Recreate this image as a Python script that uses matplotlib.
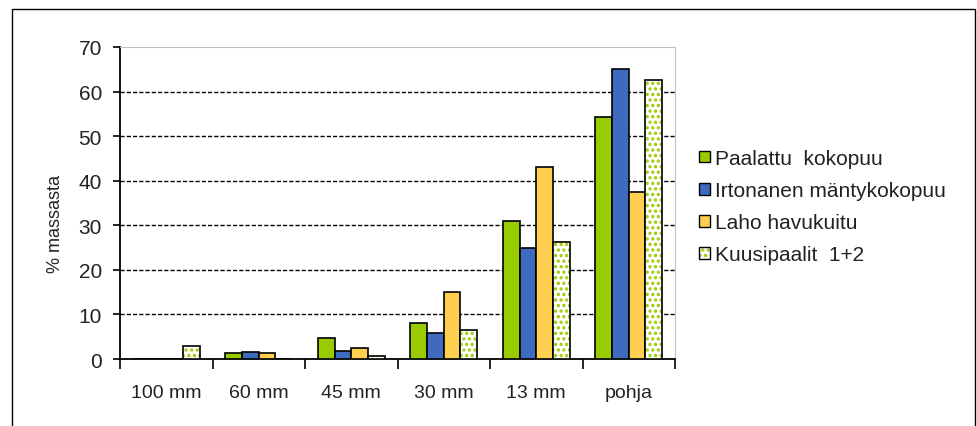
import matplotlib.pyplot as plt
import numpy as np
from matplotlib.patches import Rectangle, Patch
from matplotlib.legend_handler import HandlerTuple

plt.rcParams['font.family'] = ['Liberation Sans', 'DejaVu Sans']

categories = ["100 mm", "60 mm", "45 mm", "30 mm", "13 mm", "pohja"]
series_names = ["Paalattu  kokopuu", "Irtonanen mäntykokopuu", "Laho havukuitu", "Kuusipaalit  1+2"]
paalattu = [0, 1.3, 4.8, 8.1, 31.0, 54.4]
irtonainen = [0, 1.6, 1.9, 5.8, 24.9, 65.1]
laho = [0, 1.3, 2.5, 15.0, 43.1, 37.5]
kuusi = [2.9, 0, 0.6, 6.5, 26.3, 62.5]

green = "#99CC00"
blue = "#3E6BBE"
yellow = "#FFD050"

fig = plt.figure(figsize=(9.78, 4.27), dpi=100)
ax = fig.add_axes([0.1227, 0.1569, 0.5675, 0.7307])

x = np.arange(len(categories))
w = 0.18
offs = np.array([-1.5, -0.5, 0.5, 1.5]) * w

ax.bar(x + offs[0], paalattu, w, color=green, edgecolor="black", linewidth=1.2, zorder=3)
ax.bar(x + offs[1], irtonainen, w, color=blue, edgecolor="black", linewidth=1.2, zorder=3)
ax.bar(x + offs[2], laho, w, color=yellow, edgecolor="black", linewidth=1.2, zorder=3)
# dotted fill for Kuusipaalit
plt.rcParams['hatch.linewidth'] = 1.6
ax.bar(x + offs[3], kuusi, w, color="white", edgecolor=green, hatch="...", linewidth=0, zorder=3)
ax.bar(x + offs[3], kuusi, w, fill=False, edgecolor="black", linewidth=1.2, zorder=4)

ax.set_xlim(-0.5, len(categories) - 0.5)
ax.set_ylim(0, 70)
ax.set_yticks(range(0, 71, 10))
ax.set_xticks(x)
ax.set_xticklabels(categories)
ax.set_xticks(np.arange(-0.5, len(categories)), minor=True)
ax.tick_params(axis="x", which="major", length=0, pad=18, labelsize=14, labelcolor="#222222")
ax.tick_params(axis="x", which="minor", length=7, width=1.2, direction="out")
ax.tick_params(axis="y", length=5, width=1.2, labelsize=15, pad=8, labelcolor="#222222")

for v in range(10, 70, 10):
    ax.axhline(v, color="black", linestyle=(0, (3, 1.5)), linewidth=1.0, zorder=1)

ax.spines["top"].set_color("#c0c0c0")
ax.spines["right"].set_color("#c0c0c0")
ax.spines["left"].set_linewidth(1.3)
ax.spines["bottom"].set_linewidth(1.3)
ax.set_ylabel("% massasta", fontsize=13, color="#222222")
ax.yaxis.set_label_coords(-0.101, 0.436)

handles = [
    Patch(facecolor=green, edgecolor="black"),
    Patch(facecolor=blue, edgecolor="black"),
    Patch(facecolor=yellow, edgecolor="black"),
    (Patch(facecolor="white", edgecolor=green, hatch="...", linewidth=0),
     Patch(fill=False, edgecolor="black")),
]
fig.legend(handles, series_names, loc="upper left", bbox_to_anchor=(0.696, 0.693),
           frameon=False, fontsize=15, handlelength=0.5, handleheight=0.5,
           handletextpad=0.25, labelspacing=0.63, labelcolor="#222222",
           handler_map={tuple: HandlerTuple(ndivide=1)})

fig.patches.append(Rectangle((0.012, -0.1), 0.985, 1.077, transform=fig.transFigure,
                             fill=False, edgecolor="black", linewidth=1.0))

fig.savefig("out.png", dpi=100)
